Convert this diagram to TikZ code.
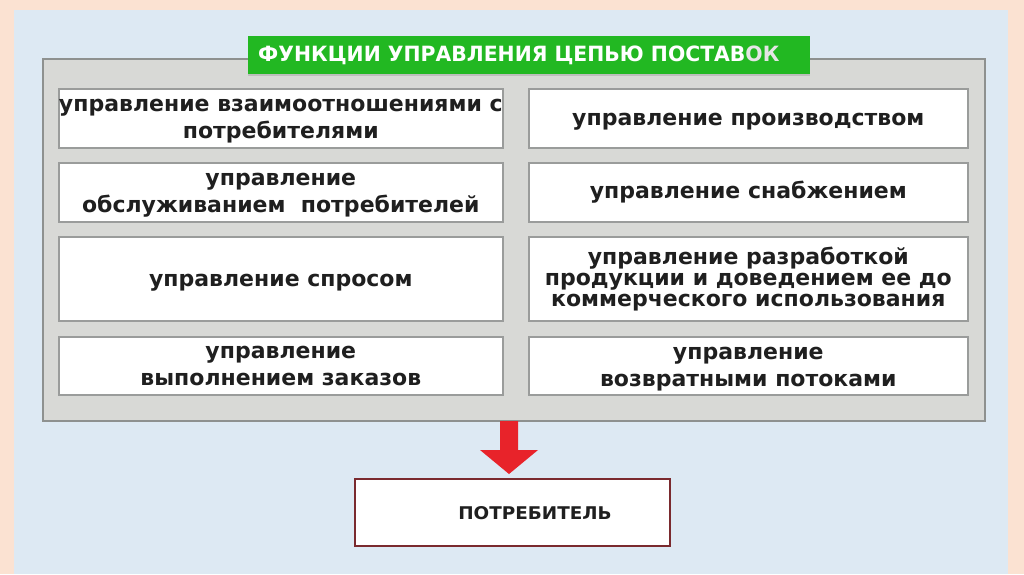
\documentclass[tikz,border=0pt]{standalone}
\usepackage{fontspec}
\setmainfont{DejaVu Sans}
\newfontfamily\boxfont{DejaVu Sans}
\newfontfamily\titlefont[FakeStretch=0.97]{DejaVu Sans}
\newfontfamily\consfont[FakeStretch=1.05]{DejaVu Sans}
\usetikzlibrary{shadows}
\definecolor{peach}{HTML}{FBE2D2}
\definecolor{bgblue}{HTML}{DDE9F3}
\definecolor{panelgray}{HTML}{D8D9D6}
\definecolor{panelborder}{HTML}{8E918F}
\definecolor{boxborder}{HTML}{9A9C9B}
\definecolor{titlegreen}{HTML}{22B822}
\definecolor{arrowred}{HTML}{E8232A}
\definecolor{consborder}{HTML}{7A2A2E}
\tikzset{
  x=1pt, y=-1pt,
  fbox/.style={draw=boxborder, line width=1.6pt, fill=white, inner sep=0pt,
    align=center, font=\boxfont\bfseries\fontsize{22}{27}\selectfont, text=black!88},
  lowtext/.style={text height=21pt},
}
\begin{document}
\begin{tikzpicture}
\useasboundingbox (0,0) rectangle (1024,574);
\fill[peach] (0,0) rectangle (1024,574);
\fill[bgblue] (14,10) rectangle (1008,574);
% panel
\node[draw=panelborder, line width=1.5pt, fill=panelgray, minimum width=942pt, minimum height=362pt, inner sep=0pt, anchor=north west] (panel) at (42,58) {};
% title
\node[fill=titlegreen, minimum width=562pt, minimum height=38pt, inner sep=0pt, anchor=north west,
  drop shadow={shadow xshift=0pt, shadow yshift=-2pt, opacity=0.3}] (titlebox) at (248,36) {};
\node[anchor=west, text=white, font=\titlefont\bfseries\fontsize{21}{24}\selectfont, inner sep=0pt] (title) at (258,55) {ФУНКЦИИ УПРАВЛЕНИЯ ЦЕПЬЮ ПОСТАВ\textcolor{white!80!gray}{ОК}};
% left column
\node[fbox, minimum width=444pt, minimum height=59pt, anchor=north west] (l1) at (58,88) {};
\node[align=center, font=\boxfont\bfseries\fontsize{22}{27}\selectfont, text=black!88, inner sep=0pt] (l1t) at ([yshift=-3pt]l1.center) {управление взаимоотношениями с\\потребителями};
\node[fbox, minimum width=444pt, minimum height=59pt, anchor=north west] (l2) at (58,162) {};
\node[align=center, font=\boxfont\bfseries\fontsize{22}{27}\selectfont, text=black!88, inner sep=0pt] (l2t) at ([yshift=-3pt]l2.center) {управление\\обслуживанием\ \ потребителей};
\node[fbox, minimum width=444pt, minimum height=84pt, anchor=north west] (l3) at (58,236) {};
\node[font=\boxfont\bfseries\fontsize{22}{27}\selectfont, text=black!88, inner sep=0pt] (l3t) at ([yshift=-4pt]l3.center) {управление спросом};
\node[fbox, minimum width=444pt, minimum height=58pt, anchor=north west] (l4) at (58,336) {управление\\выполнением заказов};
% right column
\node[fbox, minimum width=439pt, minimum height=59pt, anchor=north west] (r1) at (528,88) {};
\node[font=\boxfont\bfseries\fontsize{22}{27}\selectfont, text=black!88, inner sep=0pt] (r1t) at ([yshift=-3pt]r1.center) {управление производством};
\node[fbox, minimum width=439pt, minimum height=59pt, anchor=north west] (r2) at (528,162) {управление снабжением};
\node[fbox, minimum width=439pt, minimum height=84pt, anchor=north west, font=\boxfont\bfseries\fontsize{22}{21}\selectfont] (r3) at (528,236) {управление разработкой\\продукции и доведением ее до\\коммерческого использования};
\node[fbox, minimum width=439pt, minimum height=58pt, anchor=north west] (r4) at (528,336) {};
\node[align=center, font=\boxfont\bfseries\fontsize{22}{27}\selectfont, text=black!88, inner sep=0pt] (r4t) at ([yshift=-3pt]r4.center) {управление\\возвратными потоками};
% consumer
\node[draw=consborder, line width=2pt, fill=white, minimum width=315pt, minimum height=67pt, inner sep=0pt, anchor=north west] (cons) at (354,478) {};
\node[font=\consfont\bfseries\fontsize{17.5}{20}\selectfont, text=black!88, inner sep=0pt] (constext) at (535,513) {ПОТРЕБИТЕЛЬ};
% arrow
\fill[arrowred] (500,421) -- (518,421) -- (518,450) -- (538,450) -- (509,474) -- (480,450) -- (500,450) -- cycle;
\end{tikzpicture}
\end{document}
